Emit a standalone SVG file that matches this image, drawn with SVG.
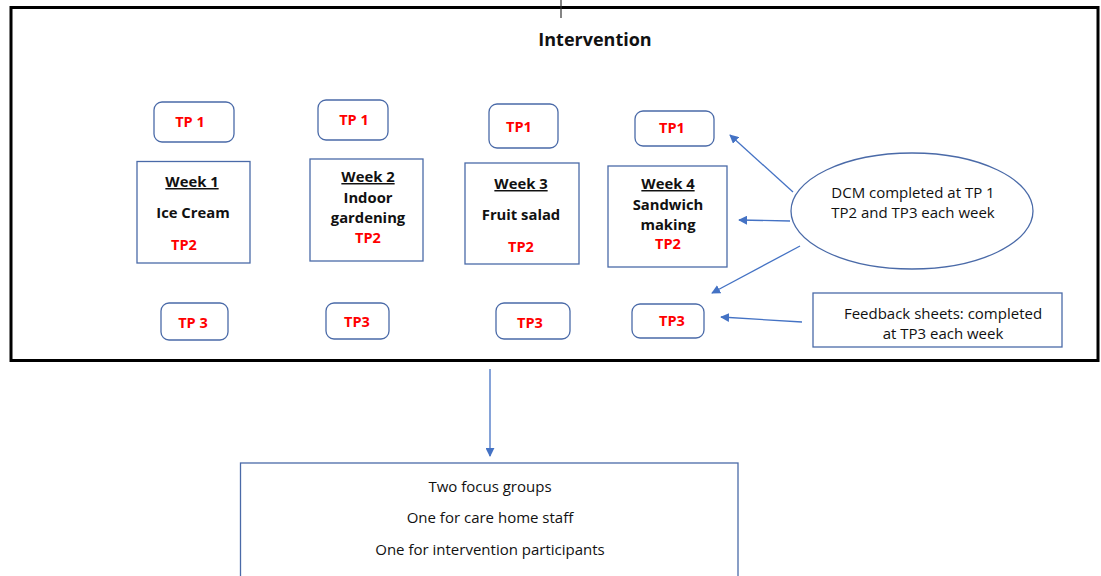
<svg xmlns="http://www.w3.org/2000/svg" width="1101" height="576" viewBox="0 0 1101 576">
<defs>
<style>
.tp{fill:#fff;stroke:#4a6aa8;stroke-width:1.3}
.wk{fill:#fff;stroke:#4a6aa8;stroke-width:1.3}
.red{font-family:"Open Sans","Liberation Sans",sans-serif;font-weight:bold;font-size:14.5px;fill:#ff0000;text-anchor:middle}
.b{font-family:"Open Sans","Liberation Sans",sans-serif;font-weight:bold;font-size:14.8px;fill:#111;text-anchor:middle}
.u{text-decoration:underline}
.n{font-family:"Open Sans","Liberation Sans",sans-serif;font-size:15px;fill:#111;text-anchor:middle}
.c{stroke:#4472c4;stroke-width:1.3;fill:none;marker-end:url(#ah)}
</style>
<marker id="ah" viewBox="0 0 10 10" refX="9" refY="5" markerWidth="9" markerHeight="9" markerUnits="userSpaceOnUse" orient="auto">
<path d="M0,0 L10,5 L0,10 z" fill="#4472c4"/>
</marker>
</defs>
<rect width="1101" height="576" fill="#fff"/>
<g id="frame">
<rect x="11" y="7.5" width="1087" height="353" fill="none" stroke="#000" stroke-width="3"/>
<line x1="561" y1="0" x2="561" y2="18" stroke="#333" stroke-width="1.2"/>
<text x="595" y="46" font-family="Open Sans, Liberation Sans, sans-serif" font-weight="bold" font-size="18" fill="#111" text-anchor="middle">Intervention</text>
</g>
<g id="tp1-w1"><rect class="tp" x="154" y="102" width="80" height="40" rx="8"/><text class="red" x="190" y="127">TP 1</text></g>
<g id="tp1-w2"><rect class="tp" x="318" y="100" width="70" height="40" rx="8"/><text class="red" x="354" y="125">TP 1</text></g>
<g id="tp1-w3"><rect class="tp" x="489" y="104" width="69" height="44" rx="8"/><text class="red" x="519" y="132">TP1</text></g>
<g id="tp1-w4"><rect class="tp" x="635" y="111" width="79" height="35" rx="8"/><text class="red" x="672" y="133">TP1</text></g>

<g id="week1"><rect class="wk" x="137" y="161.5" width="113" height="101.5"/>
<text class="b u" x="192" y="187">Week 1</text><text class="b" x="193" y="218">Ice Cream</text><text class="red" x="184" y="250">TP2</text></g>
<g id="week2"><rect class="wk" x="310" y="159" width="113" height="102"/>
<text class="b u" x="368" y="182">Week 2</text><text class="b" x="368" y="203">Indoor</text><text class="b" x="368" y="223">gardening</text><text class="red" x="368" y="243">TP2</text></g>
<g id="week3"><rect class="wk" x="465" y="163" width="114" height="101"/>
<text class="b u" x="521" y="189">Week 3</text><text class="b" x="521" y="220">Fruit salad</text><text class="red" x="521" y="252">TP2</text></g>
<g id="week4"><rect class="wk" x="608" y="166" width="119" height="101"/>
<text class="b u" x="668" y="189">Week 4</text><text class="b" x="668" y="210">Sandwich</text><text class="b" x="668" y="230">making</text><text class="red" x="668" y="249">TP2</text></g>

<g id="tp3-w1"><rect class="tp" x="161" y="303" width="67" height="37" rx="8"/><text class="red" x="193" y="328">TP 3</text></g>
<g id="tp3-w2"><rect class="tp" x="326" y="303" width="63" height="36" rx="8"/><text class="red" x="357" y="327">TP3</text></g>
<g id="tp3-w3"><rect class="tp" x="496" y="303" width="74" height="36" rx="8"/><text class="red" x="530" y="328">TP3</text></g>
<g id="tp3-w4"><rect class="tp" x="632" y="304" width="72" height="34" rx="8"/><text class="red" x="672" y="326">TP3</text></g>

<g id="dcm"><ellipse cx="912" cy="211" rx="121" ry="58" fill="#fff" stroke="#4a6aa8" stroke-width="1.3"/>
<text class="n" x="913" y="198">DCM completed at TP 1</text><text class="n" x="913" y="218">TP2 and TP3 each week</text></g>

<g id="feedback"><rect x="813" y="293" width="249" height="54" fill="#fff" stroke="#4a6aa8" stroke-width="1.3"/>
<text class="n" x="943" y="319">Feedback sheets: completed</text><text class="n" x="943" y="339">at TP3 each week</text></g>

<g id="focus"><rect x="240.5" y="463" width="497.5" height="120" fill="#fff" stroke="#4a6aa8" stroke-width="1.3"/>
<text class="n" x="490" y="492">Two focus groups</text><text class="n" x="490" y="523">One for care home staff</text><text class="n" x="490" y="555">One for intervention participants</text></g>

<g id="connectors">
<line class="c" x1="793" y1="192" x2="730" y2="135"/>
<line class="c" x1="790" y1="221" x2="739" y2="220"/>
<line class="c" x1="800" y1="246" x2="712" y2="293"/>
<line class="c" x1="802" y1="322" x2="721" y2="317"/>
<line class="c" x1="490" y1="369" x2="490" y2="456"/>
</g>
</svg>
